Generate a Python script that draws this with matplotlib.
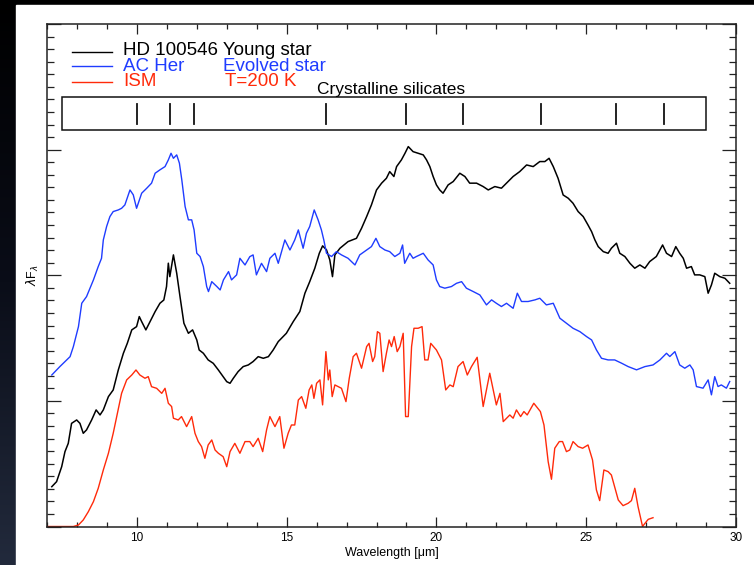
import numpy as np
import matplotlib
matplotlib.use("Agg")
import matplotlib.pyplot as plt
from matplotlib.patches import Rectangle
from matplotlib.ticker import MultipleLocator

plt.rcParams['font.family'] = ['Liberation Sans', 'DejaVu Sans']

# HD 100546 (young star)
hd_wl = [7.16, 7.32, 7.49, 7.60, 7.71, 7.82, 7.99, 8.10, 8.21, 8.32, 8.49, 8.64, 8.77, 8.88,
         9.05, 9.21, 9.38, 9.55, 9.68, 9.83, 9.99, 10.08, 10.16, 10.30, 10.44, 10.61, 10.77,
         10.90, 10.99, 11.05, 11.10, 11.22, 11.33, 11.44, 11.57, 11.72, 11.86, 12.00, 12.08,
         12.22, 12.38, 12.55, 12.72, 12.88, 13.00, 13.11, 13.22, 13.38, 13.55, 13.72, 13.88,
         14.05, 14.22, 14.39, 14.55, 14.72, 14.99, 15.22, 15.44, 15.61, 15.77, 15.94, 16.09,
         16.20, 16.33, 16.44, 16.53, 16.61, 16.78, 17.05, 17.33, 17.50, 17.67, 17.83, 18.00,
         18.17, 18.33, 18.44, 18.58, 18.67, 18.83, 18.95, 19.06, 19.22, 19.39, 19.56, 19.67,
         19.78, 19.89, 20.00, 20.11, 20.22, 20.39, 20.56, 20.78, 20.95, 21.11, 21.34, 21.56,
         21.73, 21.95, 22.17, 22.34, 22.56, 22.78, 23.01, 23.23, 23.45, 23.62, 23.76, 23.90,
         24.06, 24.23, 24.40, 24.56, 24.73, 24.90, 25.06, 25.18, 25.29, 25.40, 25.57, 25.73,
         25.84, 26.01, 26.12, 26.29, 26.46, 26.62, 26.79, 26.96, 27.12, 27.34, 27.55, 27.68,
         27.85, 27.99, 28.12, 28.24, 28.35, 28.51, 28.62, 28.79, 28.96, 29.07, 29.18, 29.29,
         29.46, 29.63, 29.79]
hd_flux = [0.317, 0.357, 0.476, 0.596, 0.662, 0.821, 0.848, 0.821, 0.742, 0.769, 0.848, 0.928,
           0.888, 0.928, 1.034, 1.087, 1.246, 1.379, 1.458, 1.565, 1.591, 1.671, 1.631, 1.565,
           1.631, 1.711, 1.777, 1.803, 1.910, 2.096, 1.989, 2.162, 2.016, 1.830, 1.618, 1.538,
           1.565, 1.485, 1.405, 1.379, 1.326, 1.299, 1.246, 1.193, 1.153, 1.140, 1.180, 1.233,
           1.273, 1.286, 1.313, 1.352, 1.339, 1.352, 1.405, 1.472, 1.538, 1.631, 1.711, 1.857,
           1.949, 2.056, 2.175, 2.234, 2.202, 2.122, 1.989, 2.162, 2.215, 2.268, 2.294, 2.374,
           2.467, 2.560, 2.679, 2.733, 2.772, 2.825, 2.786, 2.865, 2.918, 2.971, 3.024, 2.984,
           2.971, 2.958, 2.918, 2.865, 2.786, 2.719, 2.679, 2.653, 2.719, 2.746, 2.812, 2.786,
           2.733, 2.733, 2.706, 2.679, 2.706, 2.693, 2.733, 2.786, 2.825, 2.878, 2.865, 2.905,
           2.905, 2.931, 2.865, 2.772, 2.639, 2.613, 2.573, 2.507, 2.467, 2.400, 2.347, 2.281,
           2.228, 2.188, 2.175, 2.215, 2.255, 2.175, 2.149, 2.095, 2.056, 2.082, 2.056, 2.109,
           2.149, 2.241, 2.175, 2.149, 2.228, 2.175, 2.135, 2.056, 2.069, 2.003, 2.003, 1.989,
           1.857, 1.923, 2.016, 1.989, 1.976, 1.936]

# AC Her (evolved star)
ac_wl = [7.16, 7.43, 7.77, 7.88, 8.05, 8.16, 8.32, 8.55, 8.71, 8.82, 8.88, 8.99, 9.10, 9.21,
         9.38, 9.49, 9.60, 9.77, 9.88, 9.99, 10.16, 10.33, 10.49, 10.61, 10.77, 10.94, 11.05,
         11.14, 11.22, 11.33, 11.42, 11.50, 11.61, 11.72, 11.83, 11.91, 12.00, 12.11, 12.22,
         12.33, 12.39, 12.50, 12.67, 12.78, 12.89, 13.06, 13.16, 13.33, 13.44, 13.61, 13.77,
         13.88, 13.99, 14.16, 14.33, 14.44, 14.61, 14.72, 14.94, 15.11, 15.27, 15.39, 15.55,
         15.66, 15.77, 15.92, 16.05, 16.16, 16.24, 16.33, 16.50, 16.66, 16.83, 17.05, 17.28,
         17.44, 17.67, 17.83, 17.98, 18.11, 18.28, 18.44, 18.61, 18.78, 18.87, 18.94, 19.11,
         19.22, 19.33, 19.56, 19.72, 19.89, 20.00, 20.11, 20.28, 20.50, 20.67, 20.84, 21.00,
         21.23, 21.45, 21.67, 21.84, 22.00, 22.17, 22.34, 22.56, 22.70, 22.84, 23.06, 23.29,
         23.45, 23.67, 23.90, 24.12, 24.34, 24.56, 24.79, 25.01, 25.18, 25.34, 25.51, 25.73,
         25.95, 26.18, 26.40, 26.68, 26.96, 27.23, 27.46, 27.68, 27.79, 27.96, 28.12, 28.29,
         28.46, 28.57, 28.68, 28.90, 29.07, 29.18, 29.29, 29.40, 29.51, 29.68, 29.79]
ac_flux = [1.206, 1.273, 1.352, 1.432, 1.591, 1.777, 1.830, 1.963, 2.069, 2.135, 2.281, 2.388,
           2.467, 2.507, 2.520, 2.533, 2.560, 2.679, 2.640, 2.533, 2.653, 2.693, 2.733, 2.812,
           2.839, 2.865, 2.918, 2.971, 2.931, 2.958, 2.892, 2.759, 2.547, 2.441, 2.441, 2.361,
           2.175, 2.149, 2.069, 1.910, 1.870, 1.949, 1.910, 1.883, 1.963, 2.029, 1.963, 2.003,
           2.135, 2.082, 2.148, 2.162, 2.003, 2.095, 2.029, 2.135, 2.175, 2.095, 2.281, 2.201,
           2.281, 2.361, 2.215, 2.334, 2.388, 2.520, 2.441, 2.361, 2.281, 2.175, 2.149, 2.188,
           2.162, 2.135, 2.082, 2.162, 2.201, 2.228, 2.294, 2.228, 2.201, 2.188, 2.149, 2.175,
           2.241, 2.095, 2.175, 2.135, 2.149, 2.175, 2.122, 2.082, 1.963, 1.910, 1.897, 1.910,
           1.936, 1.949, 1.897, 1.870, 1.843, 1.764, 1.804, 1.777, 1.751, 1.777, 1.737, 1.857,
           1.791, 1.791, 1.804, 1.817, 1.764, 1.777, 1.658, 1.618, 1.578, 1.551, 1.512, 1.485,
           1.406, 1.339, 1.326, 1.326, 1.300, 1.273, 1.247, 1.273, 1.286, 1.326, 1.379, 1.353,
           1.392, 1.286, 1.260, 1.286, 1.247, 1.114, 1.101, 1.167, 1.048, 1.193, 1.114, 1.127,
           1.101, 1.154]

# ISM silicate
ism_wl = [7.0, 7.88, 8.05, 8.21, 8.38, 8.55, 8.71, 8.88, 9.05, 9.21, 9.35, 9.49, 9.66, 9.83,
          9.97, 10.10, 10.27, 10.38, 10.49, 10.66, 10.83, 10.94, 11.05, 11.16, 11.22, 11.38,
          11.49, 11.66, 11.83, 11.94, 12.05, 12.16, 12.27, 12.38, 12.50, 12.61, 12.72, 12.88,
          13.00, 13.11, 13.27, 13.44, 13.61, 13.77, 13.88, 14.05, 14.20, 14.33, 14.44, 14.61,
          14.77, 14.91, 15.05, 15.16, 15.27, 15.39, 15.50, 15.64, 15.75, 15.84, 15.91, 16.00,
          16.11, 16.20, 16.31, 16.39, 16.44, 16.52, 16.61, 16.83, 16.98, 17.09, 17.22, 17.33,
          17.50, 17.67, 17.75, 17.87, 17.94, 18.03, 18.11, 18.22, 18.33, 18.42, 18.50, 18.59,
          18.69, 18.78, 18.89, 18.97, 19.06, 19.17, 19.25, 19.39, 19.52, 19.61, 19.72, 19.81,
          20.00, 20.17, 20.31, 20.45, 20.56, 20.72, 20.89, 21.03, 21.17, 21.36, 21.56, 21.78,
          22.00, 22.12, 22.23, 22.45, 22.56, 22.67, 22.81, 22.92, 23.03, 23.25, 23.47, 23.59,
          23.73, 23.84, 23.95, 24.10, 24.21, 24.34, 24.45, 24.56, 24.73, 24.88, 25.06, 25.21,
          25.34, 25.45, 25.59, 25.73, 25.84, 26.07, 26.23, 26.40, 26.51, 26.62, 26.73, 26.88,
          26.96, 27.07, 27.23]
ism_flux = [0.0, 0.0, 0.012, 0.052, 0.118, 0.198, 0.304, 0.450, 0.583, 0.742, 0.901, 1.060,
            1.167, 1.206, 1.246, 1.206, 1.180, 1.193, 1.113, 1.100, 1.060, 1.100, 0.981, 0.955,
            0.862, 0.848, 0.875, 0.795, 0.875, 0.742, 0.676, 0.636, 0.543, 0.649, 0.689, 0.609,
            0.583, 0.556, 0.476, 0.596, 0.662, 0.583, 0.676, 0.676, 0.636, 0.702, 0.596, 0.769,
            0.875, 0.795, 0.875, 0.623, 0.742, 0.808, 0.808, 1.007, 1.034, 0.941, 1.087, 1.127,
            1.020, 1.140, 1.167, 0.968, 1.392, 1.167, 1.246, 1.034, 1.127, 1.100, 0.994, 1.180,
            1.352, 1.379, 1.260, 1.432, 1.458, 1.313, 1.352, 1.551, 1.538, 1.233, 1.379, 1.485,
            1.432, 1.512, 1.392, 1.432, 1.538, 0.875, 0.875, 1.432, 1.578, 1.578, 1.591, 1.326,
            1.326, 1.458, 1.405, 1.326, 1.087, 1.127, 1.113, 1.273, 1.313, 1.206, 1.273, 1.347,
            0.955, 1.220, 0.968, 1.060, 0.835, 0.888, 0.862, 0.928, 0.875, 0.915, 0.888, 0.981,
            0.915, 0.808, 0.516, 0.376, 0.623, 0.676, 0.676, 0.596, 0.609, 0.676, 0.636, 0.623,
            0.649, 0.530, 0.291, 0.206, 0.450, 0.437, 0.410, 0.211, 0.166, 0.185, 0.206, 0.304,
            0.158, 0.0, 0.025, 0.057, 0.070]

# crystalline silicate band positions (micron)
bands = [10.0, 11.1, 11.9, 16.3, 19.0, 20.9, 23.5, 26.0, 27.6]

BLACK = 'black'
BLUE = '#1f3cff'
RED = '#ff2a0a'


def main():
    fig = plt.figure(figsize=(7.54, 5.65), dpi=100)
    fig.patch.set_facecolor('black')

    # dark strip on the left with a faint blue tint towards the bottom
    bg = fig.add_axes([0, 0, 1, 1], zorder=-10)
    grad = np.linspace(0, 1, 200)[:, None]
    bg.imshow(grad, aspect='auto', extent=[0, 1, 0, 1], origin='upper',
              cmap=matplotlib.colors.LinearSegmentedColormap.from_list(
                  'bgc', ['#000000', '#0a0d18', '#222a3c']))
    bg.add_patch(Rectangle((16 / 754, 0), 1, 1 - 5 / 565, color='white'))
    bg.set_xlim(0, 1)
    bg.set_ylim(0, 1)
    bg.axis('off')

    ax = fig.add_axes([47 / 754, 1 - 526.5 / 565, (736 - 47) / 754, (526.5 - 24) / 565])
    ax.set_facecolor('white')

    ax.plot(hd_wl, hd_flux, color=BLACK, lw=1.1)
    ax.plot(ac_wl, ac_flux, color=BLUE, lw=1.0)
    ax.plot(ism_wl, ism_flux, color=RED, lw=1.0)

    ax.set_xlim(7, 30)
    ax.set_ylim(0, 4)
    ax.xaxis.set_major_locator(MultipleLocator(5))
    ax.xaxis.set_minor_locator(MultipleLocator(1))
    ax.yaxis.set_major_locator(MultipleLocator(1))
    ax.yaxis.set_minor_locator(MultipleLocator(0.1))
    ax.tick_params(which='both', direction='in', top=True, right=True, color='#222222',
                   width=0.9)
    ax.tick_params(axis='x', which='major', length=7, labelsize=8.5, pad=4)
    ax.tick_params(axis='x', which='minor', length=3.6)
    ax.tick_params(axis='y', which='major', length=10)
    ax.tick_params(axis='y', which='minor', length=5)
    ax.set_yticklabels([])
    for s in ax.spines.values():
        s.set_linewidth(1.1)
        s.set_color('#222222')

    ax.set_xlabel(u'Wavelength [\u03bcm]', fontsize=9, labelpad=2)
    ax.set_ylabel(r'$\lambda$F$_\lambda$', fontsize=9, labelpad=1)

    # crystalline silicate box
    ax.add_patch(Rectangle((7.5, 3.157), 21.5, 0.263, fill=False, lw=1.1, ec='#111111'))
    for b in bands:
        ax.plot([b, b], [3.205, 3.364], color='#111111', lw=1.3)
    ax.text(18.5, 3.44, 'Crystalline silicates', fontsize=12.5, ha='center', va='baseline')

    # legend drawn by hand
    ax.plot([7.85, 9.16], [3.78, 3.78], color=BLACK, lw=1.0)
    ax.plot([7.85, 9.16], [3.665, 3.665], color=BLUE, lw=1.0)
    ax.plot([7.85, 9.16], [3.54, 3.54], color=RED, lw=1.0)
    ax.text(9.55, 3.79, 'HD 100546 Young star', color=BLACK, fontsize=13.5, va='center')
    ax.text(9.55, 3.665, 'AC Her', color=BLUE, fontsize=13.5, va='center')
    ax.text(12.86, 3.665, 'Evolved star', color=BLUE, fontsize=13.5, va='center')
    ax.text(9.55, 3.54, 'ISM', color=RED, fontsize=13.5, va='center')
    ax.text(12.94, 3.54, 'T=200 K', color=RED, fontsize=13.5, va='center')

    fig.savefig('out.png', dpi=100, facecolor=fig.get_facecolor())


if __name__ == "__main__":
    main()
